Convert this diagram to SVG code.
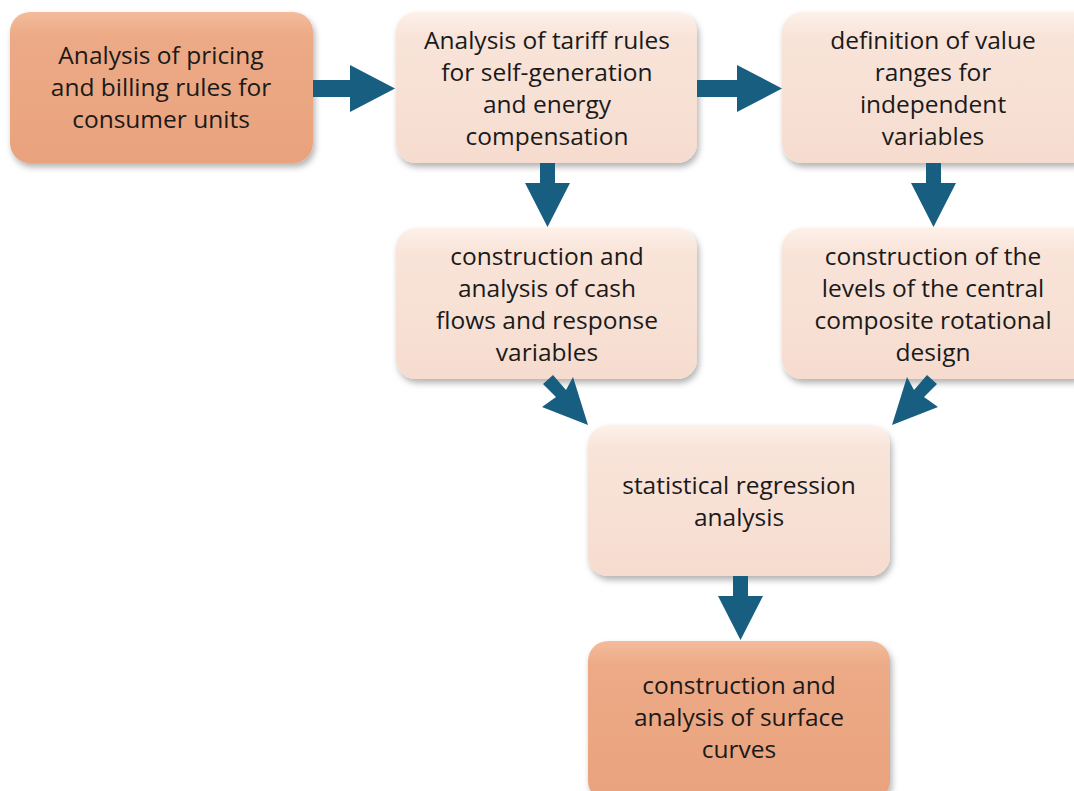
<svg xmlns="http://www.w3.org/2000/svg" width="1074" height="791" viewBox="0 0 1074 791">
<defs>
<linearGradient id="gOr" x1="0" y1="0" x2="0" y2="1">
<stop offset="0" stop-color="#F3BC9C"/><stop offset="0.15" stop-color="#EDAA86"/><stop offset="1" stop-color="#E9A27E"/>
</linearGradient>
<linearGradient id="gLt" x1="0" y1="0" x2="0" y2="1">
<stop offset="0" stop-color="#FDF1EA"/><stop offset="0.15" stop-color="#F9E4D9"/><stop offset="1" stop-color="#F6DCCF"/>
</linearGradient>
<filter id="sh" x="-10%" y="-10%" width="125%" height="130%">
<feDropShadow dx="2" dy="4" stdDeviation="3" flood-color="#000" flood-opacity="0.3"/>
</filter>
<style>
.or{fill:url(#gOr);filter:url(#sh)}
.lt{fill:url(#gLt);filter:url(#sh)}
.t{font-family:"Open Sans","Liberation Sans",sans-serif;font-size:24.5px;fill:#1a1a1a;text-anchor:middle}
.ar{fill:#175E80}
</style>
</defs>
<rect width="1074" height="791" fill="#fff"/>
<g id="n1"><rect class="or" x="10" y="12" width="303" height="151" rx="20"/>
<text class="t"><tspan x="161" y="64">Analysis of pricing</tspan><tspan x="161" y="96">and billing rules for</tspan><tspan x="161" y="128">consumer units</tspan></text></g>
<g id="n2"><rect class="lt" x="396" y="12" width="301" height="151" rx="20"/>
<text class="t"><tspan x="547" y="49">Analysis of tariff rules</tspan><tspan x="547" y="81">for self-generation</tspan><tspan x="547" y="113">and energy</tspan><tspan x="547" y="145">compensation</tspan></text></g>
<g id="n3"><rect class="lt" x="782" y="12" width="310" height="151" rx="20"/>
<text class="t"><tspan x="933" y="49">definition of value</tspan><tspan x="933" y="81">ranges for</tspan><tspan x="933" y="113">independent</tspan><tspan x="933" y="145">variables</tspan></text></g>
<g id="n4"><rect class="lt" x="396" y="228" width="301" height="151" rx="20"/>
<text class="t"><tspan x="547" y="265">construction and</tspan><tspan x="547" y="297">analysis of cash</tspan><tspan x="547" y="329">flows and response</tspan><tspan x="547" y="361">variables</tspan></text></g>
<g id="n5"><rect class="lt" x="782" y="228" width="310" height="151" rx="20"/>
<text class="t"><tspan x="933" y="265">construction of the</tspan><tspan x="933" y="297">levels of the central</tspan><tspan x="933" y="329">composite rotational</tspan><tspan x="933" y="361">design</tspan></text></g>
<g id="n6"><rect class="lt" x="588" y="425" width="302" height="151" rx="20"/>
<text class="t"><tspan x="739" y="494">statistical regression</tspan><tspan x="739" y="526">analysis</tspan></text></g>
<g id="n7"><rect class="or" x="588" y="641" width="302" height="160" rx="20"/>
<text class="t"><tspan x="739" y="694">construction and</tspan><tspan x="739" y="726">analysis of surface</tspan><tspan x="739" y="758">curves</tspan></text></g>
<g id="connectors">
<polygon class="ar" points="313,80 350,80 350,65 395,88.5 350,112 350,97 313,97"/>
<polygon class="ar" points="697,80 737,80 737,65 782,88.5 737,112 737,97 697,97"/>
<polygon class="ar" points="540,163 555,163 555,183 570,183 547.5,227 525,183 540,183"/>
<polygon class="ar" points="926,163 941,163 941,183 956,183 933.5,227 911,183 926,183"/>
<polygon class="ar" points="733,576 748,576 748,596 763,596 740.5,640 718,596 733,596"/>
<polygon class="ar" points="543,384 553,375 566,390 573,377 588,425 542,407 556,397"/>
<polygon class="ar" points="937,384 927,375 914,390 907,377 892,425 938,407 924,397"/>
</g>
</svg>
